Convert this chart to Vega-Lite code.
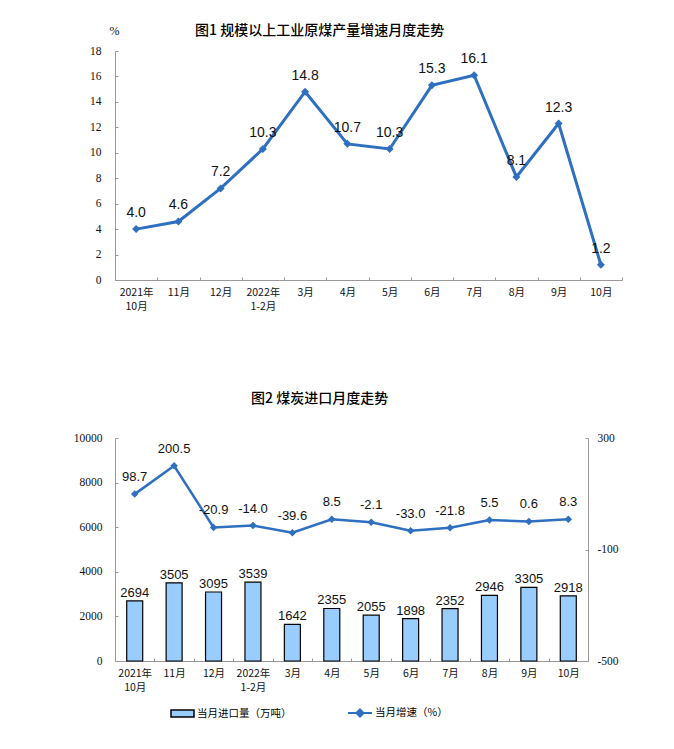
{
  "$schema": "https://vega.github.io/schema/vega-lite/v6.json",
  "autosize": {"type": "none"},
  "padding": {"left": 115, "top": 51, "right": 559, "bottom": 698},
  "background": "white",
  "spacing": 158,
  "bounds": "flush",
  "config": {
    "view": {"stroke": null},
    "locale": {"number": {"decimal": ".", "thousands": ",", "grouping": [3], "currency": ["", ""], "minus": "-"}},
    "axis": {"grid": false, "domainColor": "#999999", "tickColor": "#999999", "labelColor": "#111111"}
  },
  "vconcat": [
    {
      "width": 507,
      "height": 229,
      "title": {"text": "图1  规模以上工业原煤产量增速月度走势", "anchor": "start", "frame": "group", "dx": 80, "dy": 14, "offset": 0, "font": "Noto Sans CJK SC", "fontSize": 14, "fontWeight": 500, "color": "#000000"},
      "data": {"values": [
        {"month": "2021年|10月", "rate": 4.0},
        {"month": "11月", "rate": 4.6},
        {"month": "12月", "rate": 7.2},
        {"month": "2022年|1-2月", "rate": 10.3},
        {"month": "3月", "rate": 14.8},
        {"month": "4月", "rate": 10.7},
        {"month": "5月", "rate": 10.3},
        {"month": "6月", "rate": 15.3},
        {"month": "7月", "rate": 16.1},
        {"month": "8月", "rate": 8.1},
        {"month": "9月", "rate": 12.3},
        {"month": "10月", "rate": 1.2}
      ]},
      "encoding": {
        "x": {"field": "month", "type": "ordinal", "sort": null, "scale": {"paddingInner": 0, "paddingOuter": 0},
          "axis": {"title": null, "labelAngle": 0, "labelExpr": "split(datum.label, '|')", "labelFont": "Noto Sans CJK SC", "labelFontSize": 10.5, "labelLineHeight": 14, "labelBaseline": "top", "tickBand": "extent", "tickSize": -3, "labelPadding": 10}},
        "y": {"field": "rate", "type": "quantitative", "scale": {"domain": [0, 18]},
          "axis": {"values": [0, 2, 4, 6, 8, 10, 12, 14, 16, 18], "format": "d", "title": "%", "titleAngle": 0, "titleX": -1, "titleY": -21, "titleAlign": "center", "titleBaseline": "middle", "titleFont": "Liberation Serif", "titleFontSize": 12, "titleFontWeight": "normal", "titleColor": "#111111", "labelFont": "Liberation Serif", "labelFontSize": 11.5, "tickSize": -3, "labelPadding": 17}}
      },
      "layer": [
        {"mark": {"type": "line", "color": "#2E6FBF", "strokeWidth": 3}},
        {"mark": {"type": "point", "shape": "diamond", "filled": true, "color": "#2E6FBF", "size": 64, "opacity": 1}},
        {"mark": {"type": "text", "dy": -16, "font": "Liberation Sans", "fontSize": 14, "color": "#111111", "baseline": "middle"},
          "encoding": {"text": {"field": "rate", "type": "quantitative", "format": ".1f"}}}
      ]
    },
    {
      "width": 473,
      "height": 223,
      "title": {"text": "图2  煤炭进口月度走势", "anchor": "start", "frame": "group", "dx": 136, "offset": 26, "font": "Noto Sans CJK SC", "fontSize": 14, "fontWeight": 500, "color": "#000000"},
      "data": {"values": [
        {"month": "2021年|10月", "imports": 2694, "growth": 98.7},
        {"month": "11月", "imports": 3505, "growth": 200.5},
        {"month": "12月", "imports": 3095, "growth": -20.9},
        {"month": "2022年|1-2月", "imports": 3539, "growth": -14.0},
        {"month": "3月", "imports": 1642, "growth": -39.6},
        {"month": "4月", "imports": 2355, "growth": 8.5},
        {"month": "5月", "imports": 2055, "growth": -2.1},
        {"month": "6月", "imports": 1898, "growth": -33.0},
        {"month": "7月", "imports": 2352, "growth": -21.8},
        {"month": "8月", "imports": 2946, "growth": 5.5},
        {"month": "9月", "imports": 3305, "growth": 0.6},
        {"month": "10月", "imports": 2918, "growth": 8.3}
      ]},
      "encoding": {
        "x": {"field": "month", "type": "ordinal", "sort": null, "scale": {"paddingInner": 0, "paddingOuter": 0},
          "axis": {"title": null, "labelAngle": 0, "labelExpr": "split(datum.label, '|')", "labelFont": "Noto Sans CJK SC", "labelFontSize": 10.5, "labelLineHeight": 14, "labelBaseline": "top", "tickBand": "extent", "tickSize": -3, "labelPadding": 10}}
      },
      "layer": [
        {
          "layer": [
            {"mark": {"type": "bar", "stroke": "#000000", "strokeWidth": 1.2, "width": 16},
              "encoding": {
                "y": {"field": "imports", "type": "quantitative", "scale": {"domain": [0, 10000]},
                  "axis": {"orient": "left", "values": [0, 2000, 4000, 6000, 8000, 10000], "format": "d", "title": null, "labelFont": "Liberation Serif", "labelFontSize": 11.5, "tickSize": -3, "labelPadding": 16}},
                "fill": {"datum": "当月进口量（万吨）", "type": "nominal", "scale": {"range": ["#99CCFF"]},
                  "legend": {"orient": "none", "legendX": 55, "legendY": 650, "title": null, "labelFont": "Noto Sans CJK SC", "labelFontSize": 10.5, "labelColor": "#000000", "labelOffset": 2, "symbolType": "M-1,-0.3H1V0.3H-1Z", "symbolSize": 529, "symbolStrokeColor": "#000000", "symbolStrokeWidth": 1.5,
                    "encode": {"symbols": {"update": {"stroke": {"value": "#000000"}, "strokeWidth": {"value": 1.5}}}}}}
              }},
            {"mark": {"type": "text", "dy": -8, "font": "Liberation Sans", "fontSize": 13, "color": "#111111", "baseline": "middle"},
              "encoding": {
                "y": {"field": "imports", "type": "quantitative"},
                "text": {"field": "imports", "type": "quantitative", "format": "d"}
              }}
          ]
        },
        {
          "layer": [
            {"mark": {"type": "line", "strokeWidth": 2.5},
              "encoding": {
                "y": {"field": "growth", "type": "quantitative", "scale": {"domain": [-500, 300]},
                  "axis": {"orient": "right", "values": [-500, -100, 300], "format": "d", "title": null, "labelFont": "Liberation Serif", "labelFontSize": 11.5, "tickSize": -3, "labelPadding": 12}},
                "stroke": {"datum": "当月增速（%）", "type": "nominal", "scale": {"range": ["#2E6FBF"]},
                  "legend": {"orient": "none", "legendX": 232, "legendY": 649, "title": null, "labelFont": "Noto Sans CJK SC", "labelFontSize": 10.5, "labelColor": "#000000", "labelOffset": 2, "symbolType": "M-1,0H1M-0.3,0L0,-0.3L0.3,0L0,0.3Z", "symbolSize": 576, "symbolStrokeWidth": 2,
                    "encode": {"symbols": {"update": {"fill": {"value": "#2E6FBF"}, "stroke": {"value": "#2E6FBF"}, "strokeWidth": {"value": 2}}}}}}
              }},
            {"mark": {"type": "point", "shape": "diamond", "filled": true, "color": "#2E6FBF", "size": 56, "opacity": 1},
              "encoding": {"y": {"field": "growth", "type": "quantitative"}}},
            {"mark": {"type": "text", "dy": -17, "font": "Liberation Sans", "fontSize": 13, "color": "#111111", "baseline": "middle"},
              "encoding": {
                "y": {"field": "growth", "type": "quantitative"},
                "text": {"field": "growth", "type": "quantitative", "format": ".1f"}
              }}
          ]
        }
      ],
      "resolve": {"scale": {"y": "independent"}}
    }
  ]
}
